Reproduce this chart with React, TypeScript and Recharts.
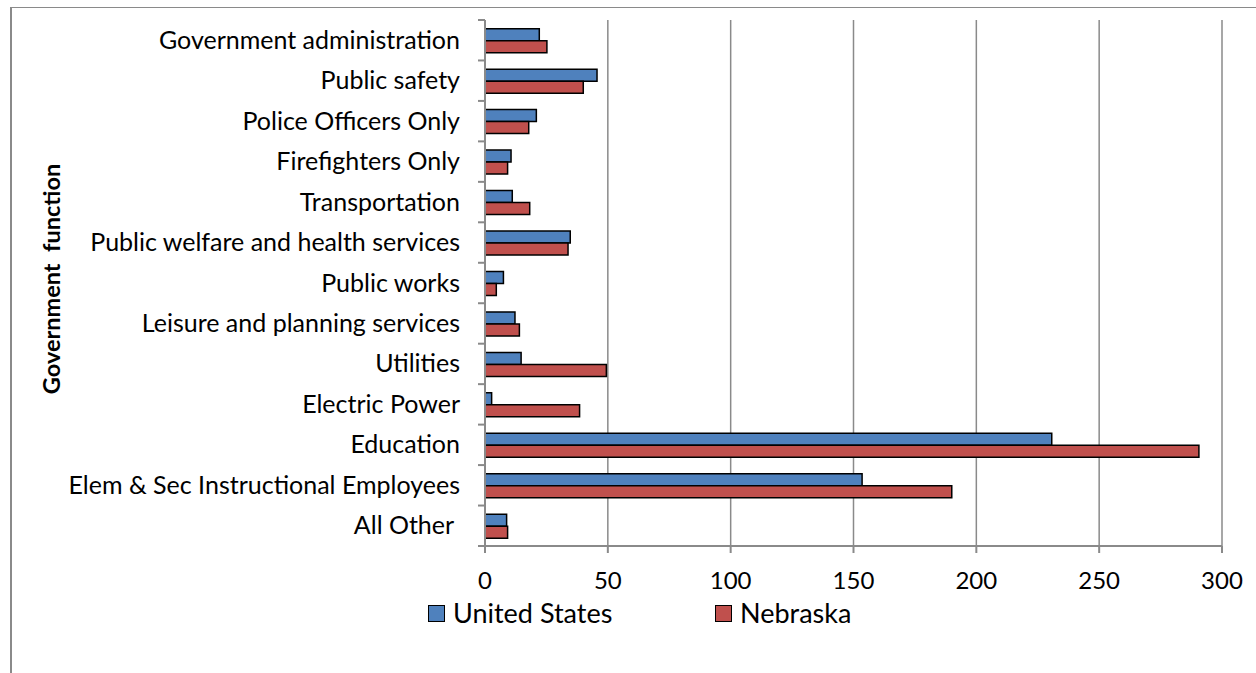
import React from 'react';
import { BarChart, Bar, XAxis, YAxis, CartesianGrid, Legend } from 'recharts';

const categories = [
  'Government administration',
  'Public safety',
  'Police Officers Only',
  'Firefighters Only',
  'Transportation',
  'Public welfare and health services',
  'Public works',
  'Leisure and planning services',
  'Utilities',
  'Electric Power',
  'Education',
  'Elem & Sec Instructional Employees',
  'All Other ',
];
const unitedStates = [22.1, 45.6, 20.9, 10.6, 11.1, 34.7, 7.5, 12.2, 14.7, 2.7, 230.7, 153.5, 8.8];
const nebraska = [25.2, 40.0, 17.8, 9.2, 18.2, 33.8, 4.6, 14.0, 49.4, 38.5, 290.6, 190.0, 9.2];
const xTicks = [0, 50, 100, 150, 200, 250, 300];
const seriesNames = ['United States', 'Nebraska'];
const axisTitle = 'Government\u00a0 function';

const data = categories.map((name, i) => ({
  name,
  us: unitedStates[i],
  ne: nebraska[i],
}));

const FONT = 'Lato, "Open Sans", sans-serif';
const GRAY = '#8a8a8a';
const BLUE = '#4F81BD';
const RED = '#C0504D';

const CategoryTick = (props: any) => {
  const { x, y, payload, index } = props;
  const half = payload && typeof payload.offset === 'number' && payload.offset > 0 ? payload.offset : 20.2;
  const last = index === categories.length - 1;
  return (
    <g>
      <line x1={x - 7} x2={x} y1={y - half} y2={y - half} stroke={GRAY} strokeWidth={2} />
      {last && <line x1={x - 7} x2={x} y1={y + half} y2={y + half} stroke={GRAY} strokeWidth={2} />}
      <text
        x={x - 25}
        y={y}
        dy="0.34em"
        textAnchor="end"
        fill="#000"
        fontSize={25}
        fontFamily={FONT}
        style={{ whiteSpace: 'pre' }}
      >
        {payload.value}
      </text>
    </g>
  );
};

const renderLegend = (props: any) => {
  const payload = [...(props.payload || [])].sort(
    (a: any, b: any) => seriesNames.indexOf(a.value) - seriesNames.indexOf(b.value)
  );
  return (
    <div style={{ display: 'flex', height: 30, alignItems: 'center', fontFamily: FONT, fontSize: 27, color: '#000' }}>
      {payload.map((entry: any, i: number) => (
        <div key={i} style={{ display: 'flex', alignItems: 'center', width: i === 0 ? 287 : 200 }}>
          <span
            style={{
              display: 'inline-block',
              boxSizing: 'border-box',
              width: 17,
              height: 17,
              background: entry.color,
              border: '1.5px solid #000',
              marginRight: 8,
            }}
          />
          <span style={{ lineHeight: '30px' }}>{entry.value}</span>
        </div>
      ))}
    </div>
  );
};

export default function App() {
  return (
    <div style={{ position: 'absolute', left: 0, top: 0, width: 1256, height: 673, background: '#fff' }}>
      <div
        style={{
          position: 'absolute',
          left: 10,
          top: 7,
          width: 1246,
          height: 666,
          boxSizing: 'border-box',
          borderTop: `1px solid ${GRAY}`,
          borderLeft: `2px solid ${GRAY}`,
        }}
      />
      <BarChart
        width={1256}
        height={673}
        data={data}
        layout="vertical"
        margin={{ top: 20, right: 34, left: 0, bottom: 47 }}
        barCategoryGap="21.5%"
        barGap={0}
      >
        <CartesianGrid horizontal={false} stroke={GRAY} strokeWidth={1.5} />
        <XAxis
          type="number"
          domain={[0, 300]}
          ticks={xTicks}
          interval={0}
          height={50}
          tickSize={7}
          tickMargin={19}
          axisLine={{ stroke: GRAY, strokeWidth: 2 }}
          tickLine={{ stroke: GRAY, strokeWidth: 2 }}
          tick={{ fill: '#000', fontSize: 24, fontFamily: FONT }}
        />
        <YAxis
          type="category"
          dataKey="name"
          width={485}
          interval={0}
          tickSize={0}
          tickMargin={0}
          tickLine={false}
          axisLine={{ stroke: GRAY, strokeWidth: 2 }}
          tick={<CategoryTick />}
          label={{
            value: axisTitle,
            angle: -90,
            position: 'insideLeft',
            offset: 52,
            dy: -4,
            style: { textAnchor: 'middle', fontWeight: 'bold', fontSize: 23.5, fontFamily: FONT, fill: '#000' },
          }}
        />
        <Legend
          verticalAlign="bottom"
          content={renderLegend}
          itemSorter={null as any}
          wrapperStyle={{ left: 428, top: 598, width: 520, height: 30 }}
        />
        <Bar dataKey="us" name={seriesNames[0]} fill={BLUE} stroke="#000" strokeWidth={1.5} isAnimationActive={false} />
        <Bar dataKey="ne" name={seriesNames[1]} fill={RED} stroke="#000" strokeWidth={1.5} isAnimationActive={false} />
      </BarChart>
    </div>
  );
}
